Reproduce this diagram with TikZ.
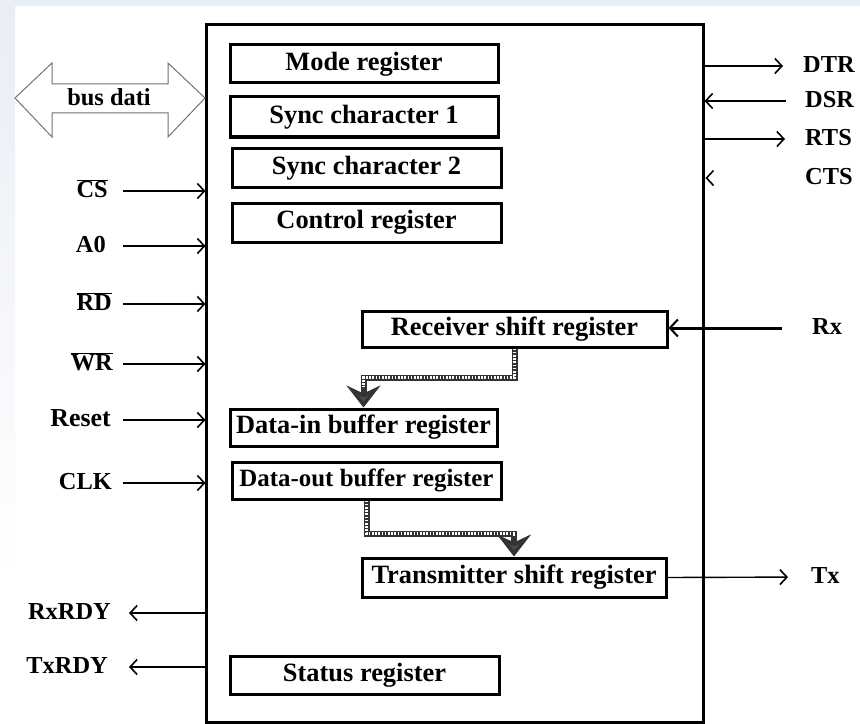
\documentclass[tikz,border=0pt]{standalone}
\usepackage{fontspec}
\setmainfont{Liberation Serif}
\usetikzlibrary{arrows.meta,calc}
\definecolor{bgc}{RGB}{233,237,245}
\begin{document}
\begin{tikzpicture}[x=1bp,y=-1bp,
  reg/.style={draw, line width=3bp, inner sep=0pt, font=\fontsize{26.5}{28}\selectfont\bfseries},
  lab/.style={inner sep=0pt, text height=17bp, text depth=4bp, font=\fontsize{24.5}{26}\selectfont\bfseries},
  sig/.style={line width=1.4bp, -{Straight Barb[length=7bp,width=15bp,line width=1.6bp]}},
  hatch/.style={line width=6bp, draw=black!80, line join=miter,
     -{Stealth[length=22bp,width=34bp,inset=8bp,fill=black!70]}},
  hatchin/.style={line width=2.4bp, draw=white, dash pattern=on 1.6bp off 1.6bp, shorten >=21bp},
  busline/.style={draw=black!55, line width=1bp, line join=miter}
]
\useasboundingbox (0,0) rectangle (860,724);
% background
\fill[bgc] (0,0) rectangle (860,724);
\fill[white] (15,6) rectangle (860,724);
\shade[top color=bgc, bottom color=white] (0,6) rectangle (15,580);
\fill[white] (0,580) rectangle (15,724);

% main box
\node[draw, line width=3bp, inner sep=0pt, minimum width=496bp, minimum height=697bp] (main) at (455,373.5) {};

% registers
\node[reg, minimum width=268bp, minimum height=38bp] (mode) at (364,64) {Mode register};
\node[reg, minimum width=268bp, minimum height=40bp] (sync1) at (364,117) {Sync character 1};
\node[reg, minimum width=269bp, minimum height=38bp] (sync2) at (366.5,168) {Sync character 2};
\node[reg, minimum width=269bp, minimum height=39bp] (ctrl) at (366.5,222.5) {Control register};
\node[reg, minimum width=305bp, minimum height=36bp] (rsr) at (514.5,329) {Receiver shift register};
\node[reg, minimum width=267bp, minimum height=37bp] (dib) at (363.5,427.5) {Data-in buffer register};
\node[reg, minimum width=269bp, minimum height=37bp, font=\fontsize{25}{28}\selectfont\bfseries] (dob) at (366.5,480.5) {Data-out buffer register};
\node[reg, minimum width=304bp, minimum height=39bp] (tsr) at (514,577.5) {Transmitter shift register};
\node[reg, minimum width=269bp, minimum height=38bp] (status) at (364.5,675) {Status register};

% bus dati
\draw[busline] (15,98) -- (52,63) -- (52,84) -- (168,84) -- (168,63) -- (205,98)
   -- (168,137) -- (168,113) -- (52,113) -- (52,137) -- cycle;
\node[lab] (bus) at (109,99) {bus dati};

% left signals
\node[lab, anchor=east] (cs) at (108,191) {$\overline{\mbox{CS}}$};
\node[lab, anchor=east] (a0) at (106,246) {A0};
\node[lab, anchor=east] (rd) at (112,304) {$\overline{\mbox{RD}}$};
\node[lab, anchor=east] (wr) at (113,364) {$\overline{\mbox{WR}}$};
\node[lab, anchor=east] (reset) at (111,420) {\fontsize{26}{28}\selectfont Reset};
\node[lab, anchor=east] (clk) at (112,483) {CLK};
\foreach \s/\g in {cs/15, a0/17, rd/11, wr/10, reset/12, clk/11}
  \draw[sig, shorten <=\g bp] (\s.east) -- (\s.east -| main.west);

\node[lab, anchor=east] (rxrdy) at (111,613) {RxRDY};
\node[lab, anchor=east] (txrdy) at (108,667) {TxRDY};
\draw[sig, shorten >=18bp] (rxrdy.east -| main.west) -- (rxrdy.east);
\draw[sig, shorten >=21bp] (txrdy.east -| main.west) -- (txrdy.east);

% right signals
\node[lab, anchor=west] (dtr) at (803,66) {DTR};
\node[lab, anchor=west] (dsr) at (805,101) {DSR};
\node[lab, anchor=west] (rts) at (805,139) {RTS};
\node[lab, anchor=west] (cts) at (805,178) {CTS};
\draw[sig, shorten >=20bp] (dtr.west -| main.east) -- (dtr.west);
\draw[sig, shorten <=19bp] (dsr.west) -- (dsr.west -| main.east);
\draw[sig, shorten >=20bp] (rts.west -| main.east) -- (rts.west);
\coordinate (ctstip) at ($(cts.west -| main.east)+(2,0)$);
\draw[line width=1.6bp] ($(ctstip)+(7,-7.5)$) -- (ctstip) -- ($(ctstip)+(7,7.5)$);

\node[lab, anchor=west] (rx) at (812,328) {Rx};
\node[lab, anchor=west] (tx) at (811,577) {Tx};
\draw[line width=3bp, -{Straight Barb[length=8bp,width=17bp,line width=2bp]}, shorten <=30bp]
  (rx.west) -- (rx.west -| rsr.east);
\draw[sig, shorten >=23bp] (tsr.east) -- (tx.west);

% internal data transfers
\draw[hatch] (rsr.south) -- ++(0,29) -| (dib.north);
\draw[hatchin] (rsr.south) -- ++(0,29) -| (dib.north);
\draw[hatch] (dob.south) -- ++(0,33) -| (tsr.north);
\draw[hatchin] (dob.south) -- ++(0,33) -| (tsr.north);
\end{tikzpicture}
\end{document}
